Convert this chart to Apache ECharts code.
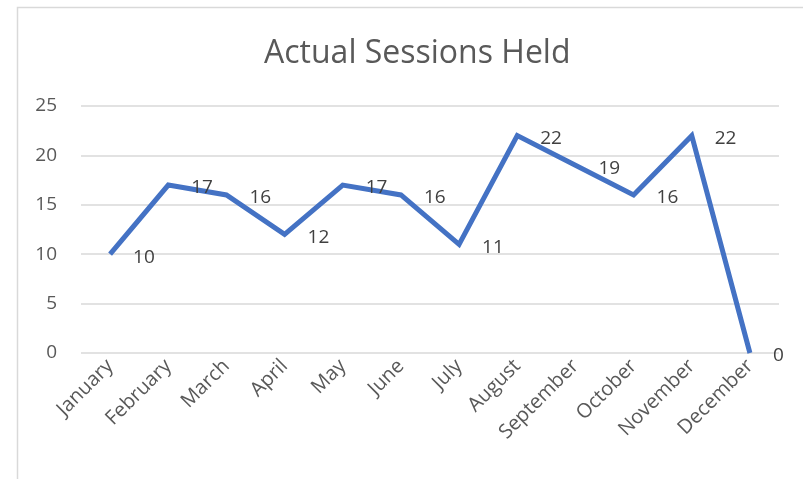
<!DOCTYPE html>
<html>
<head>
<meta charset="utf-8">
<script src="https://cdn.jsdelivr.net/npm/echarts@6/dist/echarts.min.js"></script>
<style>
  html, body { margin: 0; padding: 0; background: #fff; }
  #chart { width: 803px; height: 479px; }
</style>
</head>
<body>
<div id="chart"></div>
<script>
const months = ['January', 'February', 'March', 'April', 'May', 'June', 'July',
  'August', 'September', 'October', 'November', 'December']
const sessions = [10, 17, 16, 12, 17, 16, 11, 22, 19, 16, 22, 0]
const yTicks = [0, 5, 10, 15, 20, 25]

const chart = echarts.init(document.getElementById('chart'))
const font = '"Open Sans", sans-serif'

chart.setOption({
  animation: false,
  graphic: [{
    type: 'rect',
    shape: { x: 17.5, y: 7.5, width: 800, height: 480 },
    style: { fill: 'none', stroke: '#d9d9d9', lineWidth: 1.5 },
    silent: true
  }],
  title: {
    text: 'Actual Sessions Held',
    left: 259,
    top: 33,
    textStyle: { fontFamily: font, fontSize: 32, fontWeight: 'normal', color: '#595959' }
  },
  grid: { left: 81, right: 24, top: 106, bottom: 126 },
  xAxis: {
    type: 'category',
    data: months,
    boundaryGap: true,
    axisLine: { show: false },
    axisTick: { show: false },
    axisLabel: { rotate: 45, margin: 10, fontFamily: font, fontSize: 20, color: '#595959', interval: 0 }
  },
  yAxis: {
    type: 'value',
    min: yTicks[0],
    max: yTicks[yTicks.length - 1],
    interval: 5,
    axisLine: { show: false },
    axisTick: { show: false },
    axisLabel: { margin: 24, fontFamily: font, fontSize: 19, color: '#595959' },
    splitLine: { lineStyle: { color: '#d9d9d9', width: 1.5 } }
  },
  series: [{
    type: 'line',
    data: sessions,
    symbol: 'circle',
    symbolSize: 2,
    showSymbol: true,
    itemStyle: { color: 'rgba(0,0,0,0)' },
    lineStyle: { color: '#4472C4', width: 5, join: 'miter' },
    label: {
      show: true,
      position: 'right',
      distance: 22,
      offset: [0, 3],
      fontFamily: font,
      fontSize: 19,
      color: '#404040'
    }
  }]
})
</script>
</body>
</html>
